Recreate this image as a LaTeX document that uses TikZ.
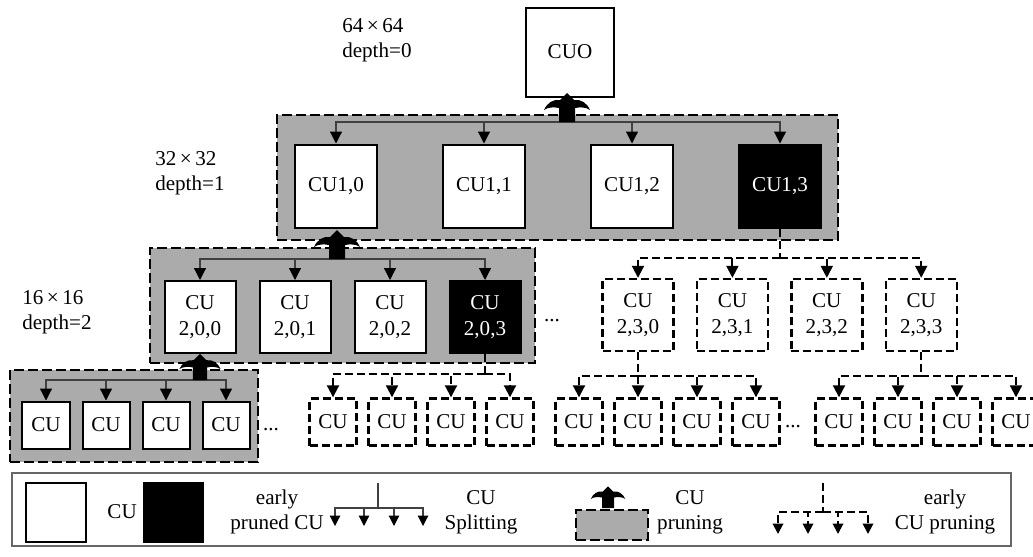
\documentclass[tikz,border=0pt]{standalone}
\usepackage{fontspec}
\setmainfont{Liberation Serif}
\usetikzlibrary{arrows.meta,positioning,fit,backgrounds}

\begin{document}
\begin{tikzpicture}[
  x=0.25mm, y=-0.25mm,
  font=\fontsize{15}{18}\selectfont,
  cu/.style={draw, line width=0.5mm, fill=white, align=center, inner sep=0pt},
  l1/.style={cu, minimum width=20.5mm, minimum height=20.75mm},
  l2/.style={cu, minimum width=17.75mm, minimum height=18mm},
  l3/.style={cu, minimum size=11.75mm},
  pcu/.style={fill=black, text=white},
  ecu/.style={line width=0.6mm, dash pattern=on 2mm off 1mm},
  grp/.style={draw, fill=black!33, line width=0.4mm, dash pattern=on 2.5mm off 1mm, inner sep=0pt},
  lbl/.style={align=left, anchor=west, inner sep=0pt},
  split/.style={draw=black!75, line width=0.3mm, -{Triangle[width=3mm,length=3mm,color=black]}},
  edash/.style={line width=0.5mm, dash pattern=on 2mm off 1mm},
  esplit/.style={edash, -{Triangle[width=3mm,length=3mm]}},
  prune/.pic={
    \fill (0,-29) -- (7,-22) .. controls (14,-23) and (20,-19) .. (23,-12)
      .. controls (19,-15) and (13,-15) .. (8,-14) -- (8,0) -- (-8,0) -- (-8,-14)
      .. controls (-13,-15) and (-19,-15) .. (-23,-12)
      .. controls (-20,-19) and (-14,-23) .. (-7,-22) -- cycle;
  }
]
\useasboundingbox (0,0) rectangle (1033,556);

% depth labels
\node[lbl] (d0) at (342,40) {64\,×\,64\\depth=0};
\node[lbl] (d1) at (155,173) {32\,×\,32\\depth=1};
\node[lbl] (d2) at (22,312) {16\,×\,16\\depth=2};

% depth 0 and 1
\node[cu, minimum width=22mm, minimum height=22.25mm] (cu0) at (570,52) {CUO};
\node[l1] (cu10) at (336,186) {CU1,0};
\node[l1, right=16mm of cu10] (cu11) {CU1,1};
\node[l1, right=16mm of cu11] (cu12) {CU1,2};
\node[l1, pcu, right=16mm of cu12] (cu13) {CU1,3};

% depth 2
\node[l2] (cu200) at (200,317) {CU\\2,0,0};
\node[l2, right=5.5mm of cu200] (cu201) {CU\\2,0,1};
\node[l2, right=5.5mm of cu201] (cu202) {CU\\2,0,2};
\node[l2, pcu, right=5.5mm of cu202] (cu203) {CU\\2,0,3};
\node[l2, ecu] (cu230) at (638,315) {CU\\2,3,0};
\node[l2, ecu, right=5.25mm of cu230] (cu231) {CU\\2,3,1};
\node[l2, ecu, right=5.25mm of cu231] (cu232) {CU\\2,3,2};
\node[l2, ecu, right=5.25mm of cu232] (cu233) {CU\\2,3,3};
\node[anchor=base] (dt1) at (552,321) {...};

% depth 3
\node[l3] (a0) at (46,425) {CU};
\node[l3, right=2.75mm of a0] (a1) {CU};
\node[l3, right=2.75mm of a1] (a2) {CU};
\node[l3, right=2.75mm of a2] (a3) {CU};
\node[anchor=base] (dt2) at (271,430) {...};
\node[l3, ecu] (b0) at (333,422) {CU};
\node[l3, ecu, right=2.4mm of b0] (b1) {CU};
\node[l3, ecu, right=2.4mm of b1] (b2) {CU};
\node[l3, ecu, right=2.4mm of b2] (b3) {CU};
\node[l3, ecu] (c0) at (579,422) {CU};
\node[l3, ecu, right=2.4mm of c0] (c1) {CU};
\node[l3, ecu, right=2.4mm of c1] (c2) {CU};
\node[l3, ecu, right=2.4mm of c2] (c3) {CU};
\node[anchor=base] (dt3) at (793,427) {...};
\node[l3, ecu] (e0) at (839,422) {CU};
\node[l3, ecu, right=2.4mm of e0] (e1) {CU};
\node[l3, ecu, right=2.4mm of e1] (e2) {CU};
\node[l3, ecu, right=2.4mm of e2] (e3) {CU};

% splitting
\coordinate (j1) at (567,122);
\coordinate (j2) at (337,259);
\coordinate (j3) at (200,380);
\draw[split] (j1) -| (cu10);
\draw[split] (j1) -| (cu11);
\draw[split] (j1) -| (cu12);
\draw[split] (j1) -| (cu13);
\draw[split] (j2) -| (cu200);
\draw[split] (j2) -| (cu201);
\draw[split] (j2) -| (cu202);
\draw[split] (j2) -| (cu203);
\draw[split] (j3) -| (a0);
\draw[split] (j3) -| (a1);
\draw[split] (j3) -| (a2);
\draw[split] (j3) -| (a3);

% early pruning
\coordinate (k1) at (cu13 |- 0,258);
\coordinate (k2) at (cu203 |- 0,374);
\coordinate (k3) at (cu230 |- 0,376);
\coordinate (k4) at (cu233 |- 0,376);
\draw[edash] (cu13) -- (k1);
\draw[edash] (cu203) -- (k2);
\draw[edash] (cu230) -- (k3);
\draw[edash] (cu233) -- (k4);
\draw[esplit] (k1) -| (cu230);
\draw[esplit] (k1) -| (cu231);
\draw[esplit] (k1) -| (cu232);
\draw[esplit] (k1) -| (cu233);
\draw[esplit] (k2) -| (b0);
\draw[esplit] (k2) -| (b1);
\draw[esplit] (k2) -| (b2);
\draw[esplit] (k2) -| (b3);
\draw[esplit] (k3) -| (c0);
\draw[esplit] (k3) -| (c1);
\draw[esplit] (k3) -| (c2);
\draw[esplit] (k3) -| (c3);
\draw[esplit] (k4) -| (e0);
\draw[esplit] (k4) -| (e1);
\draw[esplit] (k4) -| (e2);
\draw[esplit] (k4) -| (e3);

\pic at (567,122) {prune};
\pic at (337,259) {prune};
\pic[scale=0.9] at (200,380) {prune};

\begin{pgfonlayer}{background}
\node[grp, fit={(277,115) (838,240)}] (g1) {};
\node[grp, fit={(150,248) (535,363)}] (g2) {};
\node[grp, fit={(10,370) (258,462)}] (g3) {};
\end{pgfonlayer}

% legend
\node[draw=black!60, line width=0.3mm, inner sep=0pt, fit={(12,473) (1011,546)}] (leg) {};
\node[cu, minimum size=14.75mm] (lw) at (56,512) {};
\node[right=0mm of lw, xshift=4mm] (lcu) {CU};
\node[cu, pcu, minimum size=14.75mm] (lb) at (173,512) {};
\node[align=center] (lpr) at (277,512) {early\\pruned CU};
\node[align=center] (lsp) at (481,512) {CU\\Splitting};
\node[grp, fit={(576,510) (648,540)}] (lgp) {};
\node[align=center] (lpn) at (690,512) {CU\\pruning};
\node[align=center] (lep) at (945,512) {early\\CU pruning};
\pic[scale=0.75] at (608,508) {prune};

\coordinate (ls) at (378,483);
\coordinate (lj) at (378,508);
\draw[draw=black!75, line width=0.3mm] (ls) -- (lj);
\foreach \x [count=\i] in {335,364,394,423} {
  \coordinate (lt\i) at (\x,526);
  \draw[split, -{Triangle[width=2.6mm,length=2.6mm,color=black]}] (lj) -| (lt\i);
}
\coordinate (le) at (823,483);
\coordinate (lk) at (823,512);
\draw[edash] (le) -- (lk);
\foreach \x [count=\i] in {778,808,838,868} {
  \coordinate (lu\i) at (\x,534);
  \draw[esplit, -{Triangle[width=2.6mm,length=2.6mm]}] (lk) -| (lu\i);
}
\end{tikzpicture}
\end{document}
